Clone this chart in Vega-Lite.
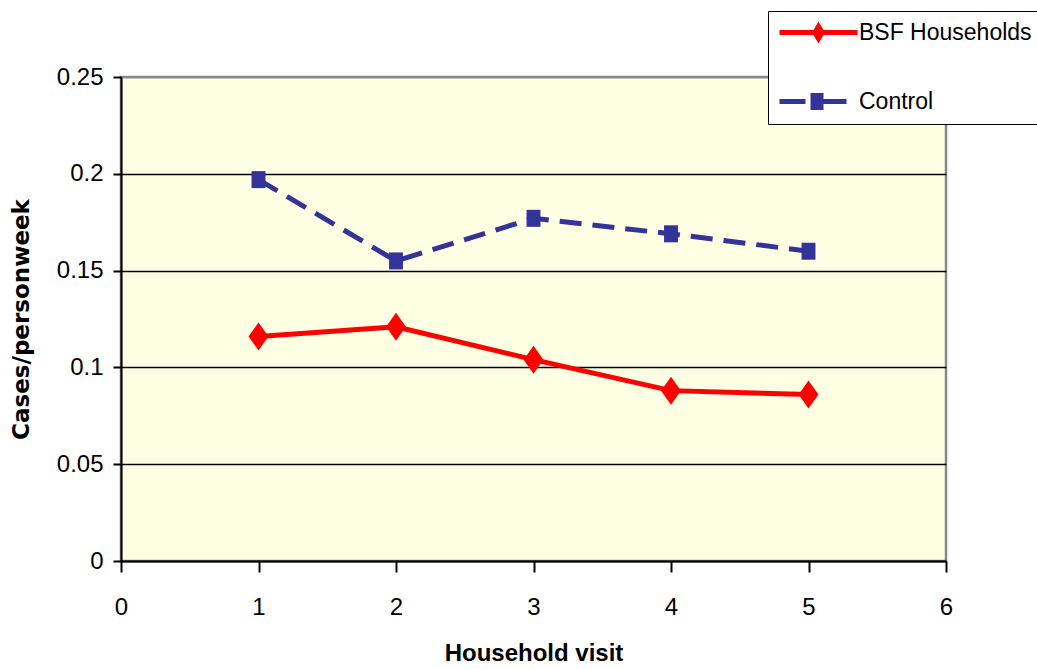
{
  "$schema": "https://vega.github.io/schema/vega-lite/v6.json",
  "width": 825,
  "height": 484,
  "autosize": {"type": "none"},
  "padding": {"left": 121, "top": 77, "right": 91, "bottom": 108},
  "background": "white",
  "config": {
    "view": {"fill": "#FFFFE4", "stroke": "#888888", "strokeWidth": 2.5},
    "axis": {
      "labelFont": "Liberation Sans",
      "labelFontSize": 24,
      "labelColor": "#000000",
      "domainColor": "#000000",
      "domainWidth": 2,
      "tickColor": "#000000",
      "tickWidth": 2,
      "titleColor": "#000000",
      "labelFlush": false,
      "labelOverlap": false,
      "labelBound": false
    }
  },
  "data": {
    "values": [
      {"visit": 1, "series": "BSF Households", "rate": 0.116},
      {"visit": 2, "series": "BSF Households", "rate": 0.121},
      {"visit": 3, "series": "BSF Households", "rate": 0.104},
      {"visit": 4, "series": "BSF Households", "rate": 0.088},
      {"visit": 5, "series": "BSF Households", "rate": 0.086},
      {"visit": 1, "series": "Control", "rate": 0.197},
      {"visit": 2, "series": "Control", "rate": 0.155},
      {"visit": 3, "series": "Control", "rate": 0.177},
      {"visit": 4, "series": "Control", "rate": 0.169},
      {"visit": 5, "series": "Control", "rate": 0.160}
    ]
  },
  "encoding": {
    "x": {
      "field": "visit",
      "type": "quantitative",
      "scale": {"domain": [0, 6], "nice": false, "zero": false},
      "axis": {
        "values": [0, 1, 2, 3, 4, 5, 6],
        "format": "d",
        "grid": false,
        "tickSize": 11,
        "labelPadding": 23,
        "title": "Household visit",
        "titleFont": "Liberation Sans",
        "titleFontSize": 24,
        "titleFontWeight": "bold",
        "titlePadding": 22
      }
    },
    "y": {
      "field": "rate",
      "type": "quantitative",
      "scale": {"domain": [0, 0.25], "nice": false},
      "axis": {
        "values": [0, 0.05, 0.1, 0.15, 0.2, 0.25],
        "format": "~g",
        "grid": true,
        "gridColor": {"condition": {"test": "datum.value >= 0.25", "value": "#888888"}, "value": "#000000"},
        "gridWidth": 1.5,
        "tickSize": 8,
        "labelPadding": 10,
        "title": "Cases/personweek",
        "titleFont": "DejaVu Sans",
        "titleFontSize": 23,
        "titleFontWeight": "bold",
        "titlePadding": 23
      }
    }
  },
  "layer": [
    {
      "transform": [{"filter": "datum.series === 'BSF Households'"}],
      "mark": {"type": "line", "strokeWidth": 5, "color": "#FF0000"}
    },
    {
      "transform": [{"filter": "datum.series === 'Control'"}],
      "mark": {"type": "line", "strokeWidth": 5, "color": "#333399", "strokeDash": [22, 11]}
    },
    {
      "transform": [{"filter": "datum.series === 'BSF Households'"}],
      "mark": {"type": "point", "shape": "M0,-1L0.71,0L0,1L-0.71,0Z", "filled": true, "size": 784, "color": "#FF0000", "opacity": 1}
    },
    {
      "transform": [{"filter": "datum.series === 'Control'"}],
      "mark": {"type": "point", "shape": "M-0.82,-1L0.82,-1L0.82,1L-0.82,1Z", "filled": true, "size": 289, "color": "#333399", "opacity": 1}
    },
    {
      "mark": {"type": "point", "filled": true, "opacity": 0},
      "encoding": {
        "color": {
          "field": "series",
          "type": "nominal",
          "scale": {"domain": ["BSF Households", "Control"], "range": ["#FF0000", "#333399"]},
          "legend": {
            "orient": "none",
            "legendX": 647,
            "legendY": -66,
            "title": null,
            "symbolSize": 400,
            "symbolOpacity": 1,
            "symbolStrokeWidth": 0,
            "labelFont": "Liberation Sans",
            "labelFontSize": 23,
            "labelColor": "#000000",
            "labelOffset": 58,
            "labelLimit": 400,
            "rowPadding": 45,
            "padding": 10,
            "fillColor": "#FFFFFF",
            "strokeColor": "#000000"
          }
        },
        "shape": {
          "field": "series",
          "type": "nominal",
          "scale": {
            "domain": ["BSF Households", "Control"],
            "range": [
              "M-1,-0.25L6.8,-0.25L6.8,0.25L-1,0.25Z M2.9,-1.1L3.55,0L2.9,1.1L2.25,0Z",
              "M-1,-0.25L1.6,-0.25L1.6,0.25L-1,0.25Z M2.1,-0.85L3.4,-0.85L3.4,0.85L2.1,0.85Z M3.4,-0.25L5.7,-0.25L5.7,0.25L3.4,0.25Z"
            ]
          },
          "legend": {
            "orient": "none",
            "legendX": 647,
            "legendY": -66,
            "title": null,
            "symbolSize": 400,
            "symbolOpacity": 1,
            "symbolStrokeWidth": 0,
            "labelFont": "Liberation Sans",
            "labelFontSize": 23,
            "labelColor": "#000000",
            "labelOffset": 58,
            "labelLimit": 400,
            "rowPadding": 45,
            "padding": 10,
            "fillColor": "#FFFFFF",
            "strokeColor": "#000000"
          }
        }
      }
    }
  ]
}
